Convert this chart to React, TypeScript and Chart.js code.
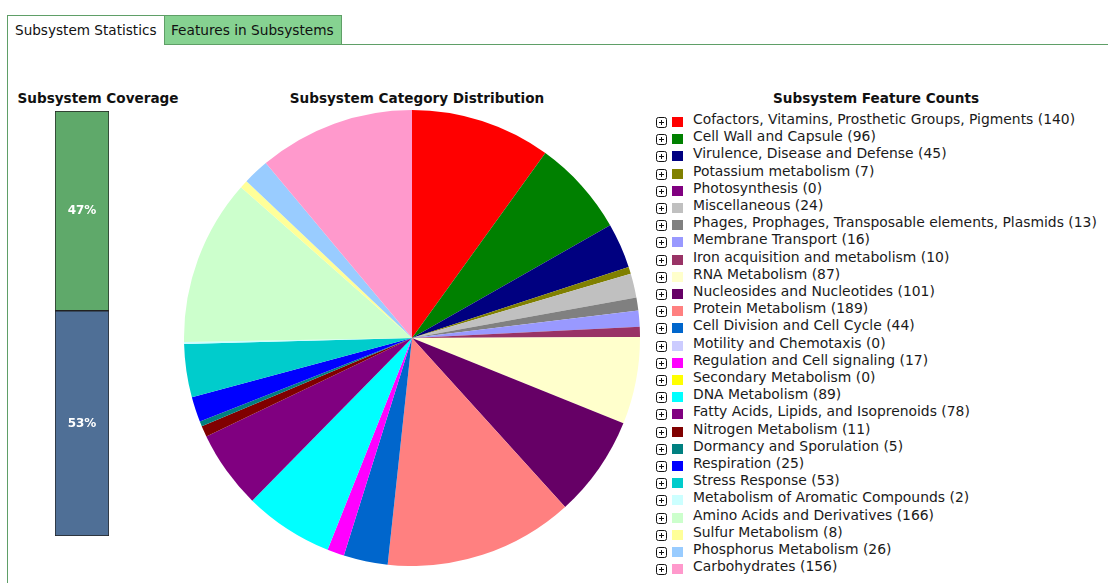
import React, { useEffect, useRef } from 'react';
import { Chart, registerables } from 'chart.js';
Chart.register(...registerables);

const categories = [
  'Cofactors, Vitamins, Prosthetic Groups, Pigments',
  'Cell Wall and Capsule',
  'Virulence, Disease and Defense',
  'Potassium metabolism',
  'Photosynthesis',
  'Miscellaneous',
  'Phages, Prophages, Transposable elements, Plasmids',
  'Membrane Transport',
  'Iron acquisition and metabolism',
  'RNA Metabolism',
  'Nucleosides and Nucleotides',
  'Protein Metabolism',
  'Cell Division and Cell Cycle',
  'Motility and Chemotaxis',
  'Regulation and Cell signaling',
  'Secondary Metabolism',
  'DNA Metabolism',
  'Fatty Acids, Lipids, and Isoprenoids',
  'Nitrogen Metabolism',
  'Dormancy and Sporulation',
  'Respiration',
  'Stress Response',
  'Metabolism of Aromatic Compounds',
  'Amino Acids and Derivatives',
  'Sulfur Metabolism',
  'Phosphorus Metabolism',
  'Carbohydrates',
];

const counts = [140, 96, 45, 7, 0, 24, 13, 16, 10, 87, 101, 189, 44, 0, 17, 0, 89, 78, 11, 5, 25, 53, 2, 166, 8, 26, 156];

const sliceColors = [
  '#FF0000', '#008000', '#000080', '#808000', '#800080', '#C0C0C0', '#808080', '#9999FF', '#993366',
  '#FFFFCC', '#660066', '#FF8080', '#0066CC', '#CCCCFF', '#FF00FF', '#FFFF00', '#00FFFF', '#800080',
  '#800000', '#008080', '#0000FF', '#00CCCC', '#CCFFFF', '#CCFFCC', '#FFFF99', '#99CCFF', '#FF99CC',
];

const coverageLabels = ['In Subsystem', 'Not in Subsystem'];
const coverageValues = [47, 53];
const coverageColors = ['#5fa96a', '#4f6f96'];

const FONT = '"DejaVu Sans", Verdana, sans-serif';
const TAB_GREEN = '#86d291';
const TAB_BORDER = '#5f9f67';

function CoverageBar() {
  const ref = useRef<HTMLCanvasElement>(null);
  useEffect(() => {
    const labelPlugin = {
      id: 'pctLabels',
      afterDatasetsDraw(chart: any) {
        const ctx = chart.ctx;
        ctx.save();
        ctx.fillStyle = '#ffffff';
        ctx.font = 'bold 12px ' + FONT;
        ctx.textAlign = 'center';
        ctx.textBaseline = 'middle';
        chart.data.datasets.forEach((ds: any, i: number) => {
          const meta = chart.getDatasetMeta(i);
          meta.data.forEach((el: any) => {
            const p = el.getProps(['x', 'y', 'base'], true);
            ctx.fillText(ds.data[0] + '%', p.x, (p.y + p.base) / 2);
          });
        });
        ctx.restore();
      },
    };
    const chart = new Chart(ref.current as HTMLCanvasElement, {
      type: 'bar',
      data: {
        labels: ['Coverage'],
        datasets: [
          {
            label: coverageLabels[1],
            data: [coverageValues[1]],
            backgroundColor: coverageColors[1],
            borderColor: '#222222',
            borderWidth: 1,
            borderSkipped: false,
            categoryPercentage: 1,
            barPercentage: 1,
          },
          {
            label: coverageLabels[0],
            data: [coverageValues[0]],
            backgroundColor: coverageColors[0],
            borderColor: '#222222',
            borderWidth: 1,
            borderSkipped: false,
            categoryPercentage: 1,
            barPercentage: 1,
          },
        ],
      },
      options: {
        responsive: false,
        animation: false,
        layout: { padding: 0 },
        scales: {
          x: { stacked: true, display: false },
          y: { stacked: true, display: false, min: 0, max: 100 },
        },
        plugins: { legend: { display: false }, tooltip: { enabled: false } },
      },
      plugins: [labelPlugin],
    } as any);
    return () => chart.destroy();
  }, []);
  return (
    <canvas
      ref={ref}
      width={54}
      height={425}
      style={{ position: 'absolute', left: 55, top: 111, width: 54, height: 425 }}
    />
  );
}

function CategoryPie() {
  const ref = useRef<HTMLCanvasElement>(null);
  useEffect(() => {
    const chart = new Chart(ref.current as HTMLCanvasElement, {
      type: 'pie',
      data: {
        labels: categories,
        datasets: [{ data: counts, backgroundColor: sliceColors, borderWidth: 0 }],
      },
      options: {
        responsive: false,
        animation: false,
        layout: { padding: 0 },
        plugins: { legend: { display: false }, tooltip: { enabled: false } },
      },
    } as any);
    return () => chart.destroy();
  }, []);
  return (
    <canvas
      ref={ref}
      width={456}
      height={456}
      style={{ position: 'absolute', left: 184, top: 110, width: 456, height: 456 }}
    />
  );
}

function PlusIcon() {
  return (
    <svg width={11} height={11} style={{ position: 'absolute', left: 0, top: 6 }}>
      <rect x={0.5} y={0.5} width={10} height={10} rx={2} ry={2} fill="#fff" stroke="#111" strokeWidth={1} />
      <line x1={3} y1={5.5} x2={8} y2={5.5} stroke="#111" strokeWidth={1} />
      <line x1={5.5} y1={3} x2={5.5} y2={8} stroke="#111" strokeWidth={1} />
    </svg>
  );
}

const titleStyle: React.CSSProperties = {
  position: 'absolute',
  fontFamily: FONT,
  fontWeight: 'bold',
  fontSize: 13.6,
  color: '#111',
  whiteSpace: 'nowrap',
  transform: 'translateX(-50%)',
  lineHeight: '16px',
};

export default function App() {
  return (
    <div
      style={{
        position: 'absolute',
        left: 0,
        top: 0,
        width: 1108,
        height: 583,
        overflow: 'hidden',
        background: '#fff',
        fontFamily: FONT,
      }}
    >
      {/* tabs */}
      <div
        style={{
          position: 'absolute',
          left: 7,
          top: 15,
          width: 157,
          height: 30,
          borderTop: `1px solid ${TAB_BORDER}`,
          borderLeft: `1px solid ${TAB_BORDER}`,
          background: '#fff',
          boxSizing: 'border-box',
          fontSize: 13.6,
          lineHeight: '29px',
          paddingLeft: 7,
          color: '#111',
          whiteSpace: 'nowrap',
        }}
      >
        Subsystem Statistics
      </div>
      <div
        style={{
          position: 'absolute',
          left: 164,
          top: 15,
          width: 178,
          height: 30,
          border: `1px solid ${TAB_BORDER}`,
          background: TAB_GREEN,
          boxSizing: 'border-box',
          fontSize: 13.7,
          lineHeight: '28px',
          paddingLeft: 6,
          color: '#111',
          whiteSpace: 'nowrap',
        }}
      >
        Features in Subsystems
      </div>
      <div style={{ position: 'absolute', left: 341, top: 44, width: 767, height: 1, background: TAB_BORDER }} />
      <div style={{ position: 'absolute', left: 7, top: 15, width: 1, height: 568, background: TAB_BORDER }} />

      {/* titles */}
      <div style={{ ...titleStyle, left: 98, top: 90 }}>Subsystem Coverage</div>
      <div style={{ ...titleStyle, left: 417, top: 90 }}>Subsystem Category Distribution</div>
      <div style={{ ...titleStyle, left: 876, top: 90 }}>Subsystem Feature Counts</div>

      <CoverageBar />
      <CategoryPie />

      {/* legend */}
      {categories.map((c, i) => (
        <div
          key={c}
          style={{
            position: 'absolute',
            left: 656,
            top: 111 + i * 17.2,
            height: 17,
            width: 452,
            whiteSpace: 'nowrap',
          }}
        >
          <PlusIcon />
          <div
            style={{
              position: 'absolute',
              left: 16,
              top: 6,
              width: 11,
              height: 10,
              background: sliceColors[i],
            }}
          />
          <div
            style={{
              position: 'absolute',
              left: 37,
              top: 0,
              fontSize: 13.9,
              lineHeight: '17px',
              color: '#1a1a1a',
            }}
          >
            {c} ({counts[i]})
          </div>
        </div>
      ))}
    </div>
  );
}
